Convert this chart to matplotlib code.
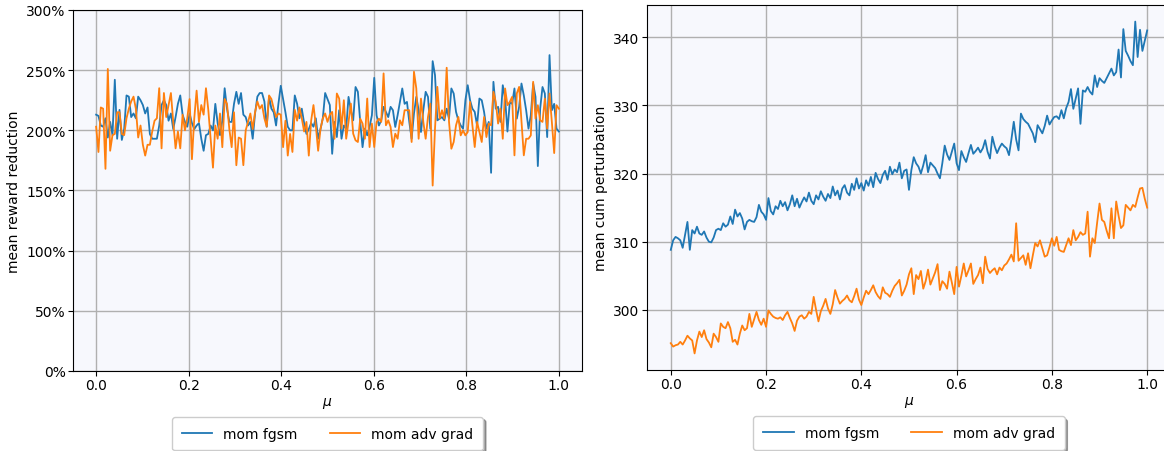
import numpy as np
import matplotlib
matplotlib.use('Agg')
import matplotlib.pyplot as plt
from matplotlib.ticker import PercentFormatter

# mean reward reduction (%) vs mu
fgsm_reward = [
    213, 212, 204, 203, 210, 194, 207, 196, 242, 193, 217, 192, 201, 229, 228, 211, 214, 210, 228, 225,
    221, 214, 219, 197, 193, 193, 193, 204, 221, 225, 221, 208, 214, 201, 211, 222, 229, 213, 207, 203,
    214, 206, 201, 204, 206, 193, 183, 196, 197, 204, 200, 222, 206, 196, 208, 235, 218, 207, 207, 222,
    232, 222, 231, 213, 211, 204, 207, 193, 214, 228, 231, 231, 224, 203, 228, 218, 215, 204, 222, 237,
    226, 215, 203, 200, 200, 229, 222, 210, 218, 206, 197, 201, 206, 203, 210, 193, 201, 210, 231, 226,
    221,
    180.5, 207, 194.4, 216.7, 193, 204, 201.4, 227.8, 216.7, 208.3, 236, 232, 207, 186, 201.4, 195.8,
    202.8, 212.5, 243.6, 212.5, 204, 208.3, 219.5, 215.3, 211, 219.5, 216.7, 202.8, 212.5, 223.6, 234.8,
    222, 223.6, 207, 193, 214, 227.8, 216.7, 198.6, 216.7, 232, 227.8, 201.4, 257.5, 245.9, 208.3, 209.7,
    211, 208.3, 218, 209.7, 234.8, 230.6, 215.3, 208.3, 204, 201.4, 225, 237.5, 225, 218, 215.3, 204,
    226.4, 225, 215.3, 201.4, 207, 164.7, 240.3, 218, 219.5, 207, 237.5, 226.4, 199, 223.6, 222, 234.8,
    209.7, 219.5, 238.9, 229, 216.7, 201.4, 212.5, 238.9, 227.8, 170.3, 218, 236, 230.6, 194.4, 262.5,
    216.7, 222, 201.4, 199,
]
adv_reward = [
    203, 182, 219, 218, 168, 251, 183, 196, 197, 215, 215, 197, 196, 210, 218, 224, 228, 218, 194, 204,
    188, 179, 188, 188, 199, 208, 210, 235, 185, 231, 211, 221, 231, 207, 185, 199, 185, 213, 200, 210,
    226, 176, 210, 233, 207, 221, 213, 235, 217, 193, 169, 204, 193, 214, 186, 226, 222, 201, 186, 215,
    171, 194, 193, 171, 200, 207, 214, 201, 215, 224, 218, 221, 210, 203, 229, 226, 218, 211, 214, 213,
    186, 208, 179, 197, 182, 217, 208, 219, 210, 199, 207, 179, 208, 221, 204, 183, 201, 210, 214, 207,
    213,
    215.3, 193, 230.6, 226.4, 201.4, 225, 193, 207, 222.2, 197.2, 191.7, 190.3, 209.7, 205.6, 193, 226.4,
    186.1, 205.6, 186.1, 207, 209.7, 207, 247.3, 204.2, 208.3, 202.8, 186.1, 197.2, 193, 208.3, 204.2,
    216.7, 216.7, 216.7, 190.3, 248.7, 234.8, 193, 226.4, 207, 193, 211.1, 222.2, 154.1, 201.4, 236.1,
    209.7, 216.7, 209.7, 252, 207, 184.7, 190.3, 204.2, 211.1, 195.8, 200, 195.8, 198.6, 223.6, 204.2,
    186.1, 207, 198.6, 190.3, 211.1, 194.4, 205.6, 204.2, 232, 223.6, 205.6, 218, 193, 234.8, 220.9,
    223.6, 227.8, 179.2, 230.6, 236.1, 207, 179.2, 193, 193, 195.8, 240.3, 209.7, 220.9, 208.3, 207,
    226.4, 201.4, 230.6, 207, 181.1, 220.9, 218,
]

# mean cumulative perturbation vs mu
fgsm_pert = [
    308.8, 310.2, 310.7, 310.5, 310.2, 309.1, 311.0, 312.9, 308.8, 311.7, 311.2, 312.2, 311.2, 311.0, 311.5,
    310.6, 310.0, 309.9, 310.6, 311.7, 311.9, 311.7, 312.7, 312.2, 312.5, 313.7, 312.6, 314.7, 313.7, 314.2,
    313.4, 311.8, 312.9, 313.2, 313.0, 312.9, 313.6, 315.4, 314.4, 314.0, 313.2, 316.4, 314.5, 314.0, 315.2,
    314.8, 316.0, 315.2, 315.8, 314.6, 315.5, 316.8, 315.2, 316.3, 315.0, 315.8, 316.5, 315.9, 317.2, 316.0,
    315.5, 316.8, 316.2, 317.4, 316.6, 316.0, 317.0, 316.4, 318.1, 316.8, 317.5, 316.2, 317.8, 318.3, 317.2,
    316.8, 318.5, 317.6, 319.3, 317.8, 318.6, 317.5, 319.0, 318.2, 319.5, 318.0, 320.1, 319.2, 318.6, 319.8,
    320.4, 319.1, 321.0, 319.9, 320.6, 320.2, 321.6, 319.3, 320.4, 320.6, 317.6, 320.5, 322.4, 321.5, 321.0,
    320.0, 321.2, 322.7, 320.2, 321.6, 321.2, 320.8, 320.0, 319.3, 321.5, 324.1, 322.8, 322.0, 323.2, 324.4,
    321.5, 320.5, 323.3, 322.4, 321.7, 323.0, 324.2, 322.9, 323.3, 323.8, 323.1, 323.7, 324.9, 323.2, 322.2,
    325.4, 324.0, 323.0, 323.8, 324.4, 324.0, 323.7, 322.7, 325.0, 327.6, 325.0, 323.4, 328.8, 328.0, 327.6,
    327.3, 326.6, 325.9, 324.6, 327.1, 326.5, 325.9, 327.0, 328.5, 327.2, 327.8, 328.3, 328.4, 328.0, 329.3,
    328.1, 329.6, 330.5, 332.4, 329.5, 331.0, 332.5, 327.3, 332.2, 332.0, 332.7, 332.0, 331.6, 334.4, 332.7,
    334.0, 333.6, 333.3, 334.0, 334.7, 335.4, 334.4, 334.9, 338.2, 334.1, 341.2, 338.0, 337.3, 336.5, 335.9,
    342.3, 337.1, 341.1, 338.0, 339.5, 341.0,
]
adv_pert = [
    295.1, 294.6, 294.8, 294.9, 295.3, 294.9, 295.5, 296.2, 295.8, 295.5, 293.6, 295.5, 296.8, 296.0, 297.0,
    295.7, 295.2, 294.5, 296.5, 296.0, 295.3, 298.0, 297.5, 297.3, 298.2, 297.3, 295.3, 295.6, 294.9, 296.5,
    297.7, 297.0, 297.3, 299.4, 297.5, 298.6, 299.7, 298.5, 297.8, 298.7, 297.5, 299.9, 299.4, 299.0, 298.8,
    298.7, 298.9, 298.5, 299.2, 299.7, 298.8, 298.0, 296.9, 298.4, 299.0, 299.2, 298.7, 299.0, 299.7, 299.4,
    301.9, 300.0, 298.3, 299.8, 300.6, 301.6, 300.2, 299.4, 300.8, 302.9, 301.8, 300.9, 301.3, 301.6, 302.1,
    301.4, 301.1, 302.0, 303.1, 301.5, 300.7, 301.8, 302.8, 302.3, 302.9, 303.6, 302.6, 302.0, 301.6, 303.3,
    302.5, 302.3, 301.9, 302.8, 303.5, 303.9, 304.4, 302.1, 302.8, 303.7, 305.2, 306.1, 302.3, 305.1, 304.5,
    305.7, 303.1, 304.2, 305.9, 303.7, 304.6, 305.5, 306.7, 302.9, 304.2, 303.8, 303.1, 305.6, 304.0, 302.3,
    306.3, 303.4, 305.0, 306.8, 304.9, 305.8, 306.8, 303.8, 304.5, 305.1, 306.2, 303.9, 307.8, 306.0, 305.4,
    305.8, 306.1, 305.2, 306.2, 305.8, 306.5, 306.8, 307.4, 308.1, 307.1, 312.7, 307.2, 307.6, 308.0, 306.6,
    308.3, 306.1, 308.0, 309.8, 309.3, 310.2, 309.0, 307.8, 308.0, 309.2, 310.5, 309.4, 310.7, 308.8, 308.6,
    308.5, 309.5, 310.5, 309.5, 311.7, 310.2, 310.7, 311.4, 311.0, 311.2, 314.4, 307.8, 310.5, 309.8, 312.8,
    315.6, 313.2, 312.9, 311.6, 310.5, 314.9, 310.5, 315.9, 313.8, 312.0, 312.4, 315.4, 315.0, 314.6, 315.4,
    315.1, 316.5, 317.8, 317.9, 316.3, 315.0,
]

labels = ['mom fgsm', 'mom adv grad']
BG = '#f7f8fd'

fig = plt.figure(figsize=(11.64, 4.52), dpi=100)
ax1 = fig.add_axes([0.0627, 0.177, 0.4373, 0.7987])
ax2 = fig.add_axes([0.5558, 0.1792, 0.4502, 0.8075])

for ax, series, ylabel in [(ax1, [fgsm_reward, adv_reward], 'mean reward reduction'),
                           (ax2, [fgsm_pert, adv_pert], 'mean cum perturbation')]:
    ax.set_facecolor(BG)
    for vals, lab, col in zip(series, labels, ['tab:blue', 'tab:orange']):
        mu = np.linspace(0, 1, len(vals))
        ax.plot(mu, vals, color=col, lw=1.3, label=lab)
    ax.grid(True, color='#b0b0b0', lw=1.0)
    ax.set_axisbelow(True)
    ax.set_xlabel('$\\mu$', fontsize=10, labelpad=2)
    ax.set_ylabel(ylabel, fontsize=10)
    ax.tick_params(labelsize=10, pad=1.8)
    ax.set_xticks([0.0, 0.2, 0.4, 0.6, 0.8, 1.0])
    ax.legend(loc='upper center', bbox_to_anchor=(0.5, -0.108), ncol=2, shadow=True,
              fontsize=10, columnspacing=2.3, handlelength=2.2, handletextpad=0.8,
              borderpad=0.7)

ax1.set_ylim(0, 300)
ax1.yaxis.set_major_formatter(PercentFormatter(100, decimals=0))
ax2.set_yticks([300, 310, 320, 330, 340])

fig.savefig('out.png', dpi=100)
